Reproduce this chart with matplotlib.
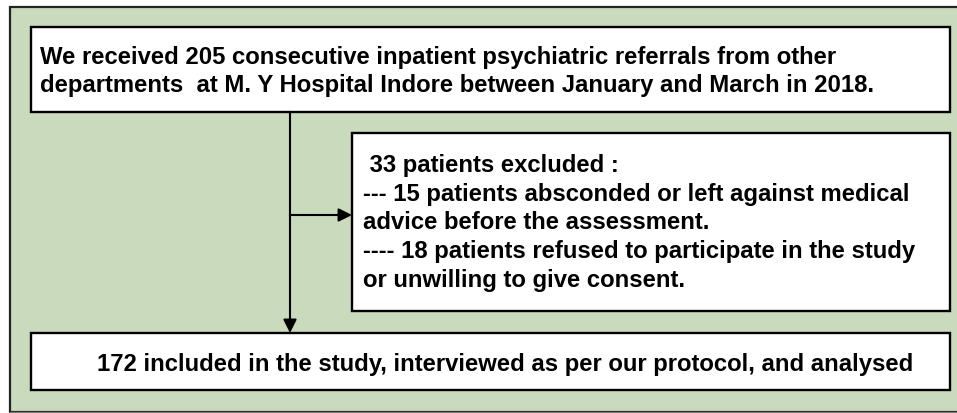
import matplotlib
matplotlib.use("Agg")
import matplotlib.pyplot as plt
from matplotlib.patches import Rectangle, FancyArrowPatch

# ---- content ----
top_lines = [
    "We received 205 consecutive inpatient psychiatric referrals from other",
    "departments  at M. Y Hospital Indore between January and March in 2018.",
]
excl_lines = [
    " 33 patients excluded :",
    "--- 15 patients absconded or left against medical",
    "advice before the assessment.",
    "---- 18 patients refused to participate in the study",
    "or unwilling to give consent.",
]
bottom_lines = [
    "172 included in the study, interviewed as per our protocol, and analysed",
]

W, H = 957, 414
fig = plt.figure(figsize=(W / 100, H / 100), dpi=100)
ax = fig.add_axes([0, 0, 1, 1])
ax.set_xlim(0, W)
ax.set_ylim(H, 0)
ax.axis("off")

green = "#C9DABD"
font = dict(family=["Liberation Sans", "DejaVu Sans"], weight="bold", fontsize=17.2, color="black")

# outer panel
ax.add_patch(Rectangle((10, 8), W + 20, 405, facecolor=green, edgecolor="#222222", lw=1.6, zorder=1))
ax.plot([10, W], [413, 413], color="#777777", lw=1.0, zorder=1.5)

def box(x0, y0, x1, y1):
    ax.add_patch(Rectangle((x0, y0), x1 - x0, y1 - y0, facecolor="white",
                           edgecolor="black", lw=1.7, zorder=2))

box(31, 28, 950, 113)
box(352, 134, 950, 312)
box(31, 334, 950, 391)

for i, t in enumerate(top_lines):
    ax.text(40, 64 + i * 28, t, ha="left", va="baseline", zorder=3, **font)
for i, t in enumerate(excl_lines):
    ax.text(363, 172 + i * 28.75, t, ha="left", va="baseline", zorder=3, **font)
for i, t in enumerate(bottom_lines):
    ax.text(97, 371, t, ha="left", va="baseline", zorder=3, **font)

# connectors
ax.plot([290, 290], [113, 322], color="black", lw=1.5, zorder=2)
ax.add_patch(FancyArrowPatch((290, 320), (290, 334), arrowstyle="-|>,head_length=5,head_width=2.5",
                             color="black", lw=1.5, mutation_scale=1.6, zorder=3, shrinkA=0, shrinkB=0))
ax.plot([290, 342], [216, 216], color="black", lw=1.5, zorder=2)
ax.add_patch(FancyArrowPatch((340, 216), (352, 216), arrowstyle="-|>,head_length=5,head_width=2.5",
                             color="black", lw=1.5, mutation_scale=1.6, zorder=3, shrinkA=0, shrinkB=0))

fig.savefig("out.png", dpi=100, facecolor="white")
